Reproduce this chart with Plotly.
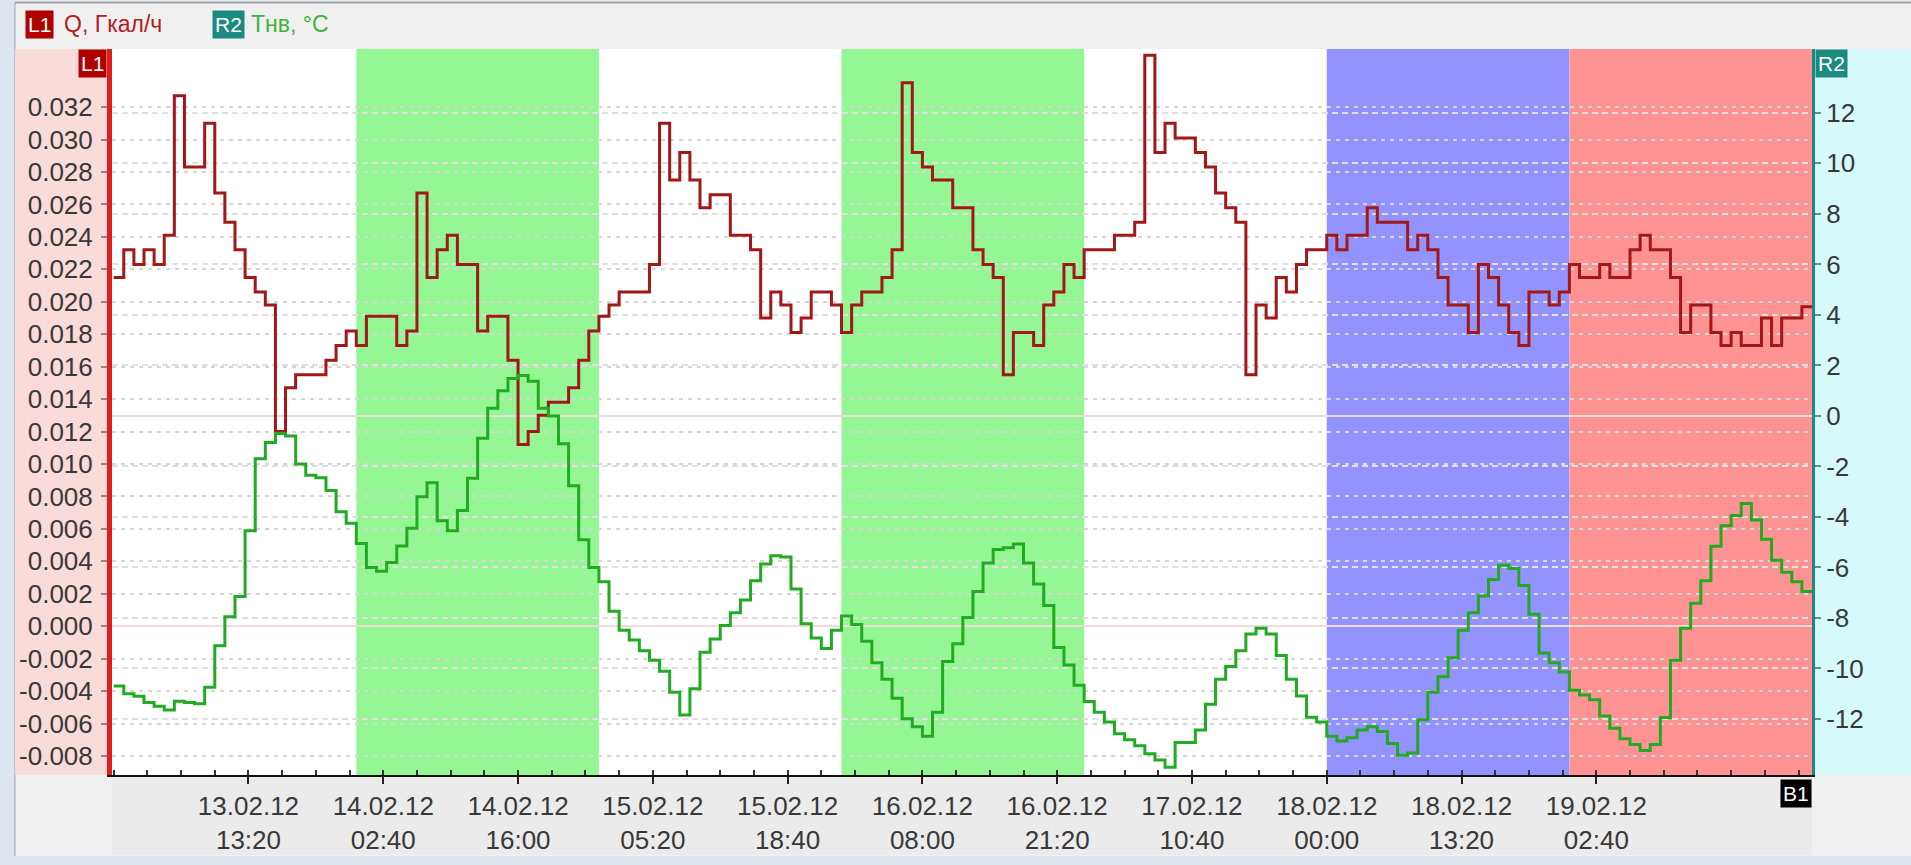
import pandas as pd
import plotly.graph_objects as go

# ---------------- data (hourly values, 13.02.12 00:00 .. 19.02.12 23:00) ----------------
START = "2012-02-13 00:00"
END = "2012-02-20 00:00"

q_13 = [0.0215, 0.0232, 0.0223, 0.0232, 0.0223, 0.0241, 0.0327, 0.0283, 0.0283, 0.0310, 0.0267, 0.0249,
        0.0232, 0.0215, 0.0206, 0.0198, 0.0120, 0.0147, 0.0155, 0.0155, 0.0155, 0.0164, 0.0173, 0.0182]
q_14 = [0.0173, 0.0191, 0.0191, 0.0191, 0.0173, 0.0182, 0.0267, 0.0215, 0.0232, 0.0241, 0.0223, 0.0223,
        0.0182, 0.0191, 0.0191, 0.0164, 0.0112, 0.0120, 0.0130, 0.0138, 0.0138, 0.0147, 0.0164, 0.0182]
q_15 = [0.0191, 0.0198, 0.0206, 0.0206, 0.0206, 0.0223, 0.0310, 0.0275, 0.0292, 0.0275, 0.0258, 0.0266,
        0.0266, 0.0241, 0.0241, 0.0232, 0.0190, 0.0206, 0.0198, 0.0181, 0.0190, 0.0206, 0.0206, 0.0198]
q_16 = [0.0181, 0.0198, 0.0206, 0.0206, 0.0215, 0.0232, 0.0335, 0.0292, 0.0283, 0.0275, 0.0275, 0.0258,
        0.0258, 0.0232, 0.0223, 0.0215, 0.0155, 0.0181, 0.0181, 0.0173, 0.0198, 0.0206, 0.0223, 0.0215]
q_17 = [0.0232, 0.0232, 0.0232, 0.0241, 0.0241, 0.0249, 0.0352, 0.0292, 0.0310, 0.0301, 0.0301, 0.0292,
        0.0283, 0.0267, 0.0258, 0.0249, 0.0155, 0.0198, 0.0190, 0.0215, 0.0206, 0.0223, 0.0232, 0.0232]
q_18 = [0.0241, 0.0232, 0.0241, 0.0241, 0.0258, 0.0249, 0.0249, 0.0249, 0.0232, 0.0241, 0.0232, 0.0215,
        0.0198, 0.0198, 0.0181, 0.0223, 0.0215, 0.0198, 0.0181, 0.0173, 0.0206, 0.0206, 0.0198, 0.0206]
q_19 = [0.0223, 0.0215, 0.0215, 0.0223, 0.0215, 0.0215, 0.0232, 0.0241, 0.0232, 0.0232, 0.0215, 0.0181,
        0.0198, 0.0198, 0.0181, 0.0173, 0.0181, 0.0173, 0.0173, 0.0190, 0.0173, 0.0190, 0.0190, 0.0197]

t_13 = [-10.7, -11.0, -11.1, -11.35, -11.5, -11.65, -11.3, -11.35, -11.4, -10.75, -9.1, -7.95,
        -7.15, -4.55, -1.7, -1.05, -0.7, -0.8, -1.9, -2.35, -2.45, -2.95, -3.8, -4.25]
t_14 = [-5.05, -6.0, -6.15, -5.8, -5.15, -4.45, -3.2, -2.65, -4.15, -4.55, -3.75, -2.47,
        -0.88, 0.3, 1.0, 1.48, 1.6, 1.37, 0.3, 0.0, -1.1, -2.77, -4.9, -6.0]
t_15 = [-6.57, -7.74, -8.49, -8.87, -9.3, -9.68, -10.11, -10.94, -11.84, -10.8, -9.36, -8.83,
        -8.3, -7.79, -7.29, -6.53, -5.86, -5.54, -5.59, -6.85, -8.23, -8.79, -9.21, -8.49]
t_16 = [-7.92, -8.26, -8.92, -9.77, -10.43, -11.18, -11.99, -12.31, -12.69, -11.74, -9.73, -9.02,
        -7.98, -6.95, -5.82, -5.29, -5.22, -5.07, -5.82, -6.66, -7.51, -9.17, -9.86, -10.67]
t_17 = [-11.31, -11.74, -12.12, -12.59, -12.82, -13.06, -13.38, -13.63, -13.91, -12.93, -12.93, -12.44,
        -11.42, -10.43, -9.92, -9.3, -8.64, -8.41, -8.64, -9.49, -10.43, -11.09, -11.93, -12.12]
t_18 = [-12.69, -12.87, -12.74, -12.44, -12.31, -12.5, -12.97, -13.44, -13.35, -12.03, -10.94, -10.33,
        -9.58, -8.49, -7.79, -7.13, -6.48, -5.91, -6.04, -6.72, -7.85, -9.39, -9.77, -10.14]
t_19 = [-10.86, -11.05, -11.24, -11.88, -12.37, -12.78, -13.01, -13.25, -13.01, -11.94, -9.68, -8.41,
        -7.42, -6.53, -5.16, -4.35, -3.94, -3.47, -4.12, -4.88, -5.72, -6.19, -6.57, -6.95]

band_days = ["2012-02-14", "2012-02-16", "2012-02-18", "2012-02-19"]
band_colors = ["#94f794", "#94f794", "#9393ff", "#ff9393"]

left_ticks = [-0.008, -0.006, -0.004, -0.002, 0.000, 0.002, 0.004, 0.006, 0.008, 0.010,
              0.012, 0.014, 0.016, 0.018, 0.020, 0.022, 0.024, 0.026, 0.028, 0.030, 0.032]
right_ticks = [-12, -10, -8, -6, -4, -2, 0, 2, 4, 6, 8, 10, 12]

q_name = "Q, Гкал/ч"
t_name = "Тнв, °C"

# ---------------- build ----------------
q_vals = q_13 + q_14 + q_15 + q_16 + q_17 + q_18 + q_19
t_vals = t_13 + t_14 + t_15 + t_16 + t_17 + t_18 + t_19
times = pd.date_range(START, periods=len(q_vals), freq="h")
# step lines: repeat the last value at the end of the final hour
x_step = list(times) + [pd.Timestamp(END)]
q_step = q_vals + [q_vals[-1]]
t_step = t_vals + [t_vals[-1]]

major = pd.date_range("2012-02-13 13:20", periods=11, freq="800min")
minor = pd.date_range(START, END, freq="200min")
tick_text = [d.strftime("%d.%m.%y") + "<br>" + d.strftime("%H:%M") for d in major]

FONT = "Liberation Sans, Arial, sans-serif"
TXT = "#383838"

fig = go.Figure()
fig.add_trace(go.Scatter(x=x_step, y=t_step, mode="lines", line=dict(shape="hv", color="#22aa22", width=3),
                         yaxis="y2", name=t_name, showlegend=False))
fig.add_trace(go.Scatter(x=x_step, y=q_step, mode="lines", line=dict(shape="hv", color="#a01818", width=3),
                         yaxis="y", name=q_name, showlegend=False))

shapes = []
# window chrome
shapes.append(dict(type="rect", xref="paper", yref="paper", x0=-0.0659, x1=-0.0571, y0=-0.124, y1=1.07,
                   fillcolor="#dde5ee", line_width=0, layer="below"))
shapes.append(dict(type="rect", xref="paper", yref="paper", x0=-0.0659, x1=1.06, y0=-0.124, y1=-0.112,
                   fillcolor="#dde5ee", line_width=0, layer="below"))
shapes.append(dict(type="line", xref="paper", yref="paper", x0=-0.0571, x1=1.06, y0=1.064, y1=1.064,
                   line=dict(color="#9aa4ae", width=2), layer="below"))
shapes.append(dict(type="line", xref="paper", yref="paper", x0=-0.0571, x1=-0.0571, y0=-0.112, y1=1.064,
                   line=dict(color="#9aa4ae", width=1), layer="below"))
# axis panels
shapes.append(dict(type="rect", xref="paper", yref="paper", x0=-0.0571, x1=0, y0=0, y1=1,
                   fillcolor="#fbdada", line_width=0, layer="below"))
shapes.append(dict(type="rect", xref="paper", yref="paper", x0=1, x1=1.06, y0=0, y1=1,
                   fillcolor="#d6fafa", line_width=0, layer="below"))
shapes.append(dict(type="rect", xref="paper", yref="paper", x0=0, x1=1, y0=-0.110, y1=0,
                   fillcolor="#ebebeb", line_width=0, layer="below"))
# day bands
for d, c in zip(band_days, band_colors):
    d0 = pd.Timestamp(d)
    shapes.append(dict(type="rect", xref="x", yref="paper", x0=d0, x1=d0 + pd.Timedelta(days=1), y0=0, y1=1,
                       fillcolor=c, line_width=0, layer="below"))

BOX = 21
LEG_Y = 1.0344
annotations = [
    dict(text="L1", x=-0.0424, y=LEG_Y, xref="paper", yref="paper", showarrow=False,
         xanchor="center", yanchor="middle",
         font=dict(family=FONT, size=BOX, color="white"), bgcolor="#b00000", borderpad=2),
    dict(text=q_name, x=-0.0294, y=LEG_Y, xref="paper", yref="paper", showarrow=False,
         xanchor="left", yanchor="middle",
         font=dict(family=FONT, size=23, color="#b02020")),
    dict(text="R2", x=0.0688, y=LEG_Y, xref="paper", yref="paper", showarrow=False,
         xanchor="center", yanchor="middle",
         font=dict(family=FONT, size=BOX, color="white"), bgcolor="#1d8a80", borderpad=2),
    dict(text=t_name, x=0.0806, y=LEG_Y, xref="paper", yref="paper", showarrow=False,
         xanchor="left", yanchor="middle",
         font=dict(family=FONT, size=23, color="#3cb43c")),
    dict(text="L1", x=-0.0030, y=1.0, xref="paper", yref="paper", showarrow=False,
         xanchor="right", yanchor="top",
         font=dict(family=FONT, size=BOX, color="white"), bgcolor="#b00000", borderpad=2),
    dict(text="R2", x=1.0015, y=1.0, xref="paper", yref="paper", showarrow=False,
         xanchor="left", yanchor="top",
         font=dict(family=FONT, size=BOX, color="white"), bgcolor="#1d8a80", borderpad=2),
    dict(text="B1", x=1.0, y=-0.005, xref="paper", yref="paper", showarrow=False,
         xanchor="right", yanchor="top",
         font=dict(family=FONT, size=BOX, color="white"), bgcolor="#000000", borderpad=2),
]

fig.update_layout(
    width=1911, height=865, autosize=False,
    margin=dict(l=112, r=99, t=49, b=90, pad=0),
    paper_bgcolor="#f0f0f0", plot_bgcolor="#ffffff",
    font=dict(family=FONT, size=26, color=TXT),
    shapes=shapes, annotations=annotations, showlegend=False,
    xaxis=dict(
        type="date", range=["2012-02-12 23:50", END], automargin=False,
        tickmode="array", tickvals=list(major), ticktext=tick_text,
        ticks="outside", ticklen=7, tickwidth=2, tickcolor="#222222",
        showline=True, linecolor="#111111", linewidth=2,
        showgrid=False, zeroline=False,
        tickfont=dict(family=FONT, size=26, color=TXT),
        minor=dict(tickmode="array", tickvals=list(minor), ticks="inside", ticklen=5, tickwidth=1.5,
                   tickcolor="#333333", showgrid=False),
    ),
    yaxis=dict(
        range=[-0.00917, 0.03558], automargin=False, tickmode="array", tickvals=left_ticks,
        ticktext=[f"{v:.3f}" for v in left_ticks],
        ticks="outside", ticklen=6, tickcolor="#8a8a8a", tickwidth=1.5, ticklabelstandoff=3,
        showline=True, linecolor="#e01c1c", linewidth=5,
        showgrid=True, gridcolor="#d6d6d6", griddash="4px,5px", gridwidth=1.5,
        zeroline=True, zerolinecolor="#f0dada", zerolinewidth=2,
        tickfont=dict(family=FONT, size=26, color=TXT),
    ),
    yaxis2=dict(
        overlaying="y", side="right", range=[-14.22, 14.53], automargin=False,
        tickmode="array", tickvals=right_ticks, ticktext=[str(v) for v in right_ticks],
        ticks="outside", ticklen=6, tickcolor="#5f8f8a", tickwidth=1.5,
        showline=True, linecolor="#1d8a80", linewidth=3,
        showgrid=True, gridcolor="#e0e0e0", griddash="6px,4px", gridwidth=1.5,
        zeroline=True, zerolinecolor="#eadcdc", zerolinewidth=2,
        tickfont=dict(family=FONT, size=26, color=TXT),
    ),
)

fig.write_html("out.html", config={"displayModeBar": False},
               post_script="document.body.style.margin='0';document.body.style.overflow='hidden';")
